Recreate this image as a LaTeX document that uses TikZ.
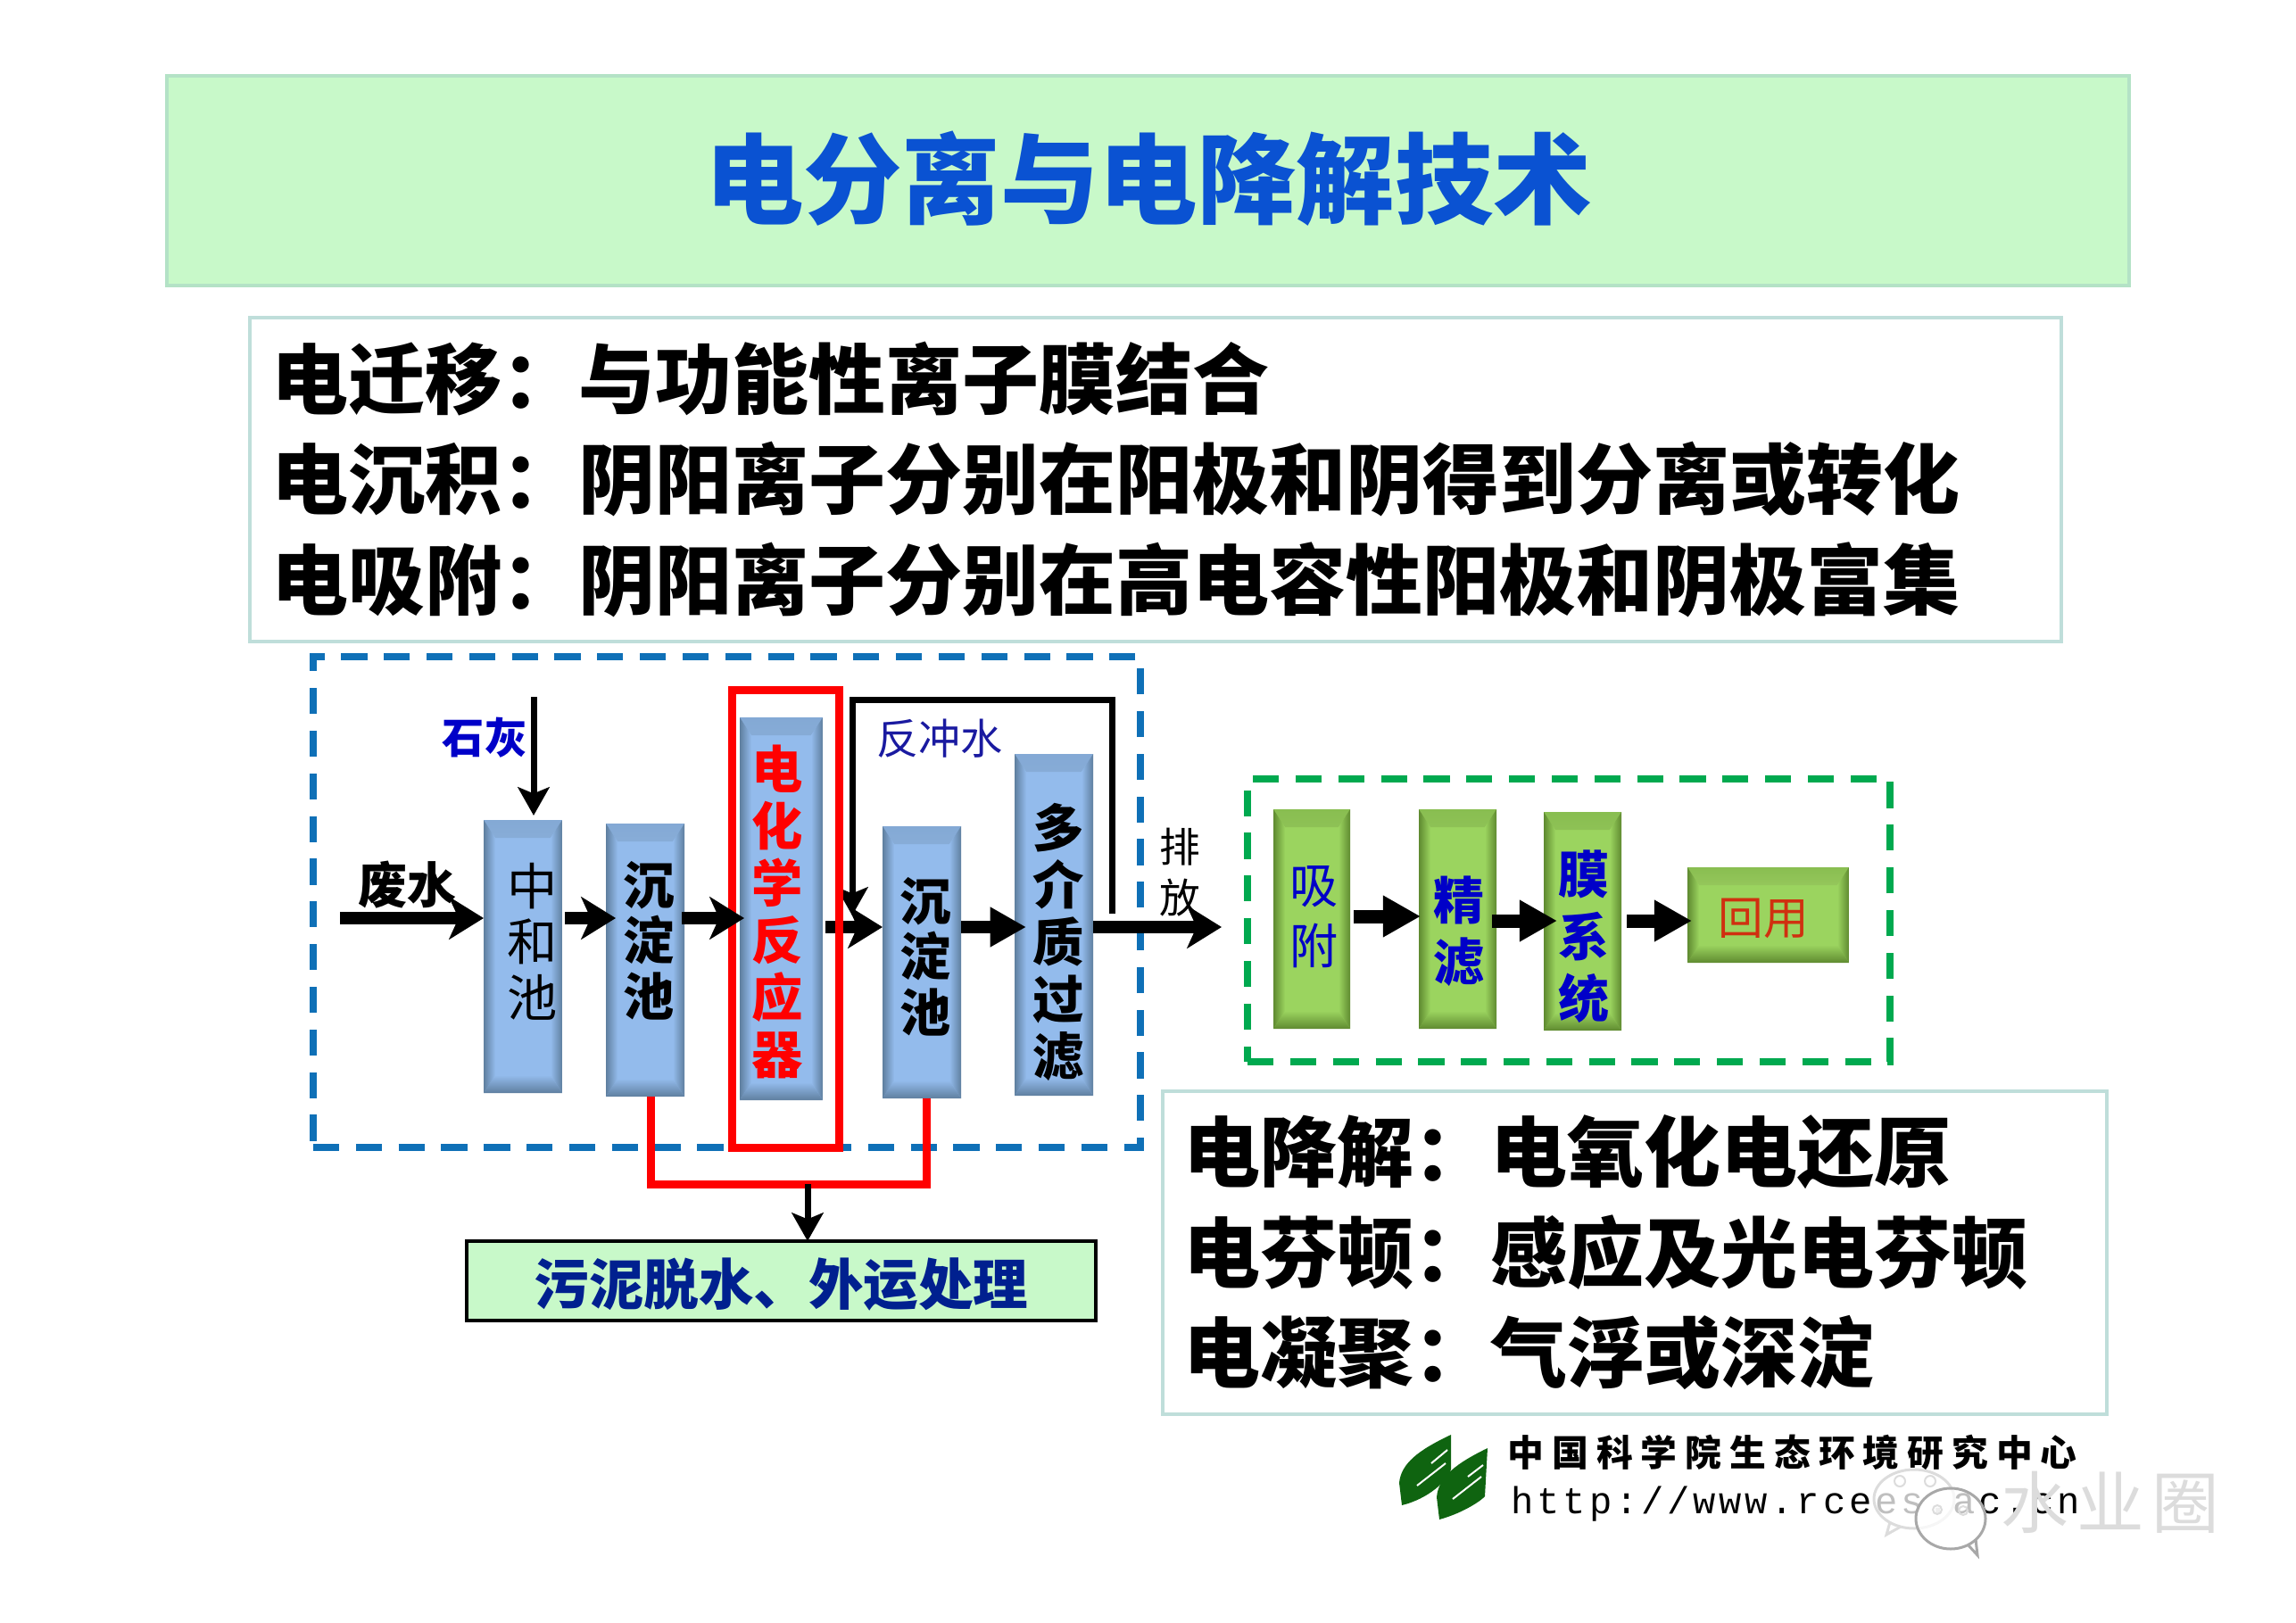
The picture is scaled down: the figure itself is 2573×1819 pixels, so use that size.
\documentclass[tikz,border=0pt]{standalone}
\usepackage{fontspec}
\setmainfont{Noto Sans CJK SC}
\newfontfamily\urlfont{Liberation Mono}
\usetikzlibrary{arrows.meta,calc}
\definecolor{titlegreen}{HTML}{C8F9C9}
\definecolor{titleedge}{HTML}{B4E2C6}
\definecolor{tealedge}{HTML}{BFDEDA}
\definecolor{titleblue}{HTML}{0A52D2}
\definecolor{dashblue}{HTML}{0F70B7}
\definecolor{dashgreen}{HTML}{00A94F}
\definecolor{bluebase}{HTML}{93BBEC}
\definecolor{bluelight}{HTML}{C4DDF7}
\definecolor{bluedark}{HTML}{5F7F9F}
\definecolor{greenbase}{HTML}{9BD45F}
\definecolor{greenlight}{HTML}{C6EC86}
\definecolor{greendark}{HTML}{5F8A30}
\definecolor{navytext}{HTML}{00208F}
\definecolor{backblue}{HTML}{1A1AA0}
\definecolor{limeblue}{HTML}{0000C8}
\definecolor{leafgreen}{HTML}{0F6410}
\definecolor{wmark}{HTML}{DCDCDC}
\definecolor{wmarkdark}{HTML}{A8A8A8}
\definecolor{reuse}{HTML}{D03010}
\def\pb{path picture bounding box}
\tikzset{
  bevelbox/.style n args={3}{inner sep=0pt, outer sep=0pt, fill=#1,
    path picture={
      \shade[top color=#1!70!#3, bottom color=#2] (\pb.north west) -- ([shift={(13,20)}]\pb.north west) -- ([shift={(-13,20)}]\pb.north east) -- (\pb.north east) -- cycle;
      \shade[top color=#1, bottom color=#3] ([shift={(13,-20)}]\pb.south west) -- (\pb.south west) -- (\pb.south east) -- ([shift={(-13,-20)}]\pb.south east) -- cycle;
      \shade[left color=#3, right color=#1] (\pb.north west) -- ([shift={(13,20)}]\pb.north west) -- ([shift={(13,-20)}]\pb.south west) -- (\pb.south west) -- cycle;
      \shade[left color=#1, right color=#3] (\pb.north east) -- ([shift={(-13,20)}]\pb.north east) -- ([shift={(-13,-20)}]\pb.south east) -- (\pb.south east) -- cycle;
    }},
  bluebox/.style={bevelbox={bluebase}{bluelight}{bluedark}},
  greenbox/.style={bevelbox={greenbase}{greenlight}{greendark}},
  sized/.style 2 args={minimum width=#1*0.01cm, minimum height=#2*0.01cm},
  lw/.style={line width=#1*0.01cm},
  infobox/.style={draw=tealedge, lw=4, fill=white, outer sep=0pt, inner ysep=0pt, inner xsep=0.24cm, align=left,
    font=\fontsize{24.45}{32}\selectfont\bfseries},
  dashframe/.style={lw=8, dash pattern=on 8.3pt off 5.3pt, inner sep=0pt, outer sep=0pt},
  stack/.style={align=center, inner sep=0pt},
  sweptarrow/.style={draw=black, lw=14, -{Stealth[length=11pt,width=13.5pt,inset=3pt]}},
  blockarrow/.style={draw=black, lw=15, -{Triangle[length=12pt,width=12.5pt]}},
  thinarrow/.style={draw=black, lw=7, -{Stealth[length=9pt,width=10pt,inset=2pt]}},
}
\begin{document}
\begin{tikzpicture}[x=0.01cm,y=-0.01cm]
\useasboundingbox (0,0) rectangle (2573,1819);
% title and text panels
\node (title) [draw=titleedge, lw=4, fill=titlegreen, sized={2199}{235}, inner sep=0pt, outer sep=0pt] at (1286.5,202.5) {};
\node (titletext) [inner sep=0pt, text=titleblue, font=\fontsize{31.4}{36}\selectfont\bfseries] at (1287,200) {电分离与电降解技术};
\node (upper) [infobox, text width=19.8cm, minimum height=3.63cm] at (1295,537.5)
  {电迁移：与功能性离子膜结合\\电沉积：阴阳离子分别在阳极和阴得到分离或转化\\电吸附：阴阳离子分别在高电容性阳极和阴极富集};
\node (lower) [infobox, text width=10.1cm, minimum height=3.62cm] at (1832,1404)
  {电降解：电氧化电还原\\电芬顿：感应及光电芬顿\\电凝聚：气浮或深淀};
% dashed frames
\node (blueframe) [draw=dashblue, dashframe, sized={927}{550}] at (814.5,1011) {};
\node (greenframe) [draw=dashgreen, dashframe, sized={720}{317}] at (1758,1031.5) {};
% process boxes
\node (hezhi) [bluebox, sized={88}{306}] at (586,1072) {};
\node (chenA) [bluebox, sized={88}{306}] at (723,1076) {};
\node (dianhua) [bluebox, sized={93}{429}] at (875.5,1018.5) {};
\node (chenB) [bluebox, sized={88}{305}] at (1033,1078.5) {};
\node (duo) [bluebox, sized={88}{383}] at (1181,1036.5) {};
\node (xifu) [greenbox, sized={86}{246}] at (1470,1030) {};
\node (jing) [greenbox, sized={87}{246}] at (1633.5,1030) {};
\node (mo) [greenbox, sized={87}{245}] at (1773.5,1032.5) {};
\node (huiyong) [greenbox, sized={181}{107}] at (1981.5,1025.5) {};
\node (sludge) [draw=black, lw=4, fill=titlegreen, sized={705}{89}, inner sep=0pt, outer sep=0pt] at (875.5,1435.5) {};
% box labels
\node (hezhit) [stack, font=\fontsize{16}{17.8}\selectfont] at (597,1055) {中\\和\\池};
\node (chenAt) [stack, font=\fontsize{16.3}{17.8}\selectfont\bfseries] at (727,1054) {沉\\淀\\池};
\node (dianhuat) [stack, text=red, font=\fontsize{16.3}{18.2}\selectfont\bfseries] at (871,1022) {电\\化\\学\\反\\应\\器};
\node (chenBt) [stack, font=\fontsize{16.3}{17.8}\selectfont\bfseries] at (1037,1072) {沉\\淀\\池};
\node (duot) [stack, font=\fontsize{16.3}{18.2}\selectfont\bfseries] at (1186,1056) {多\\介\\质\\过\\滤};
\node (xifut) [stack, text=limeblue, font=\fontsize{15.4}{19.3}\selectfont] at (1473,1028) {吸\\附};
\node (jingt) [stack, text=limeblue, font=\fontsize{16.2}{19.6}\selectfont\bfseries] at (1635,1044) {精\\滤};
\node (mot) [stack, text=limeblue, font=\fontsize{16.2}{19.8}\selectfont\bfseries] at (1775,1050) {膜\\系\\统};
\node (huiyongt) [stack, text=reuse, font=\fontsize{14.4}{16}\selectfont] at (1976,1029) {回用};
\node (sludget) [stack, text=navytext, font=\fontsize{17.5}{20}\selectfont\bfseries] at (875.5,1440) {污泥脱水、外运处理};
% free labels
\node (feiwater) [stack, font=\fontsize{15.6}{17}\selectfont\bfseries] at (456,992) {废水};
\node (lime) [stack, text=limeblue, font=\fontsize{13.4}{16}\selectfont\bfseries] at (543,827) {石灰};
\node (backwash) [stack, text=backblue, font=\fontsize{13.4}{16}\selectfont] at (1053,828) {反冲水};
\node (paifang) [stack, font=\fontsize{13}{16.2}\selectfont] at (1322,978) {排\\放};
% named free ends
\coordinate (rowA) at (0,1029);
\coordinate (rowB) at (0,1039);
\coordinate (rowC) at (0,1027);
\coordinate (rowD) at (0,1032);
\coordinate (inlet) at (381,1029);
\coordinate (outlet) at (1369,1039);
\coordinate (limestart) at (598,781);
\coordinate (limeend) at (598,914);
\coordinate (fbstart) at (1246,1024);
\coordinate (fbright) at (1246,784);
\coordinate (fbleft) at (955,784);
\coordinate (fbend) at (955,1026);
\coordinate (slujoin) at (905,1327);
% connectors
\draw[sweptarrow] (inlet) -- (hezhi.west |- rowA);
\draw[sweptarrow] ([xshift=0.03cm]hezhi.east |- rowA) -- ([xshift=0.11cm]chenA.west |- rowA);
\draw[sweptarrow] ([xshift=0.03cm]dianhua.east |- rowB) -- (chenB.west |- rowB);
\draw[draw=black, lw=14, -{Triangle[length=11.5pt,width=12pt]}] (chenB.east |- rowB) -- ([xshift=0.13cm]duo.west |- rowB);
\draw[sweptarrow] (duo.east |- rowB) -- (outlet);
\draw[blockarrow] ([xshift=0.04cm]xifu.east |- rowC) -- ([xshift=0.02cm]jing.west |- rowC);
\draw[blockarrow] ([xshift=-0.05cm]jing.east |- rowD) -- ([xshift=0.15cm]mo.west |- rowD);
\draw[blockarrow] ([xshift=0.06cm]mo.east |- rowD) -- ([xshift=0.05cm]huiyong.west |- rowD);
\draw[thinarrow] (limestart) -- (limeend);
\draw[thinarrow] (fbstart) -- (fbright) -- (fbleft) -- (fbend);
% red frame and sludge lines
\node (redframe) [draw=red, lw=9, sized={120}{513}, inner sep=0pt, outer sep=0pt] at (880,1029.5) {};
\draw[draw=red, lw=9] ([xshift=0.06cm]chenA.south) |- (slujoin) -| ([xshift=0.05cm]chenB.south);
\draw[thinarrow] (slujoin) -- (sludge.north -| slujoin);
\draw[sweptarrow] ([xshift=-0.03cm]chenA.east |- rowA) -- ([xshift=0.05cm]dianhua.west |- rowA);
% logo
\fill[leafgreen] (1626,1608) .. controls (1590,1625) and (1570,1640) .. (1568,1662) -- (1571,1687) .. controls (1600,1680) and (1622,1660) .. (1626,1647) -- cycle;
\fill[leafgreen] (1667,1623) .. controls (1632,1640) and (1612,1655) .. (1610,1678) -- (1613,1703) .. controls (1642,1695) and (1662,1680) .. (1664,1677) -- cycle;
\draw[white, lw=2] (1588,1665) -- (1620,1640);
\draw[white, lw=2] (1604,1640) -- (1622,1625);
\draw[white, lw=2] (1628,1680) -- (1660,1655);
\draw[white, lw=2] (1645,1655) -- (1662,1642);
\node (orgname) [anchor=west, inner sep=0pt, font=\fontsize{11.6}{14}\selectfont\bfseries\addfontfeature{LetterSpace=22}] at (1689,1628) {中国科学院生态环境研究中心};
\node (orgurl) [anchor=west, inner sep=0pt, font=\urlfont\fontsize{12}{14}\selectfont\addfontfeature{LetterSpace=9}] at (1693,1686) {http://www.rcees.ac.cn};
% watermark
\draw[draw=wmark, lw=3, fill=white, fill opacity=0.75] (2145,1680) ellipse [x radius=45, y radius=33];
\draw[draw=wmark, lw=3] (2118,1706) -- (2114,1720) -- (2130,1711);
\draw[draw=wmark, lw=2] (2129,1660) circle [radius=6];
\draw[draw=wmark, lw=2] (2163,1660) circle [radius=6];
\draw[draw=wmarkdark, lw=3, fill=white, fill opacity=0.75] (2186,1702) ellipse [x radius=39, y radius=34];
\draw[draw=wmarkdark, lw=3] (2205,1731) -- (2216,1743) -- (2214,1725);
\draw[draw=wmark, lw=2] (2171,1692) circle [radius=5];
\draw[draw=wmark, lw=2] (2200,1693) circle [radius=5];
\node (markname) [inner sep=0pt, text=wmark, font=\fontsize{21.5}{24}\selectfont\addfontfeature{LetterSpace=12}] at (2365,1684) {水业圈};
\end{tikzpicture}
\end{document}
